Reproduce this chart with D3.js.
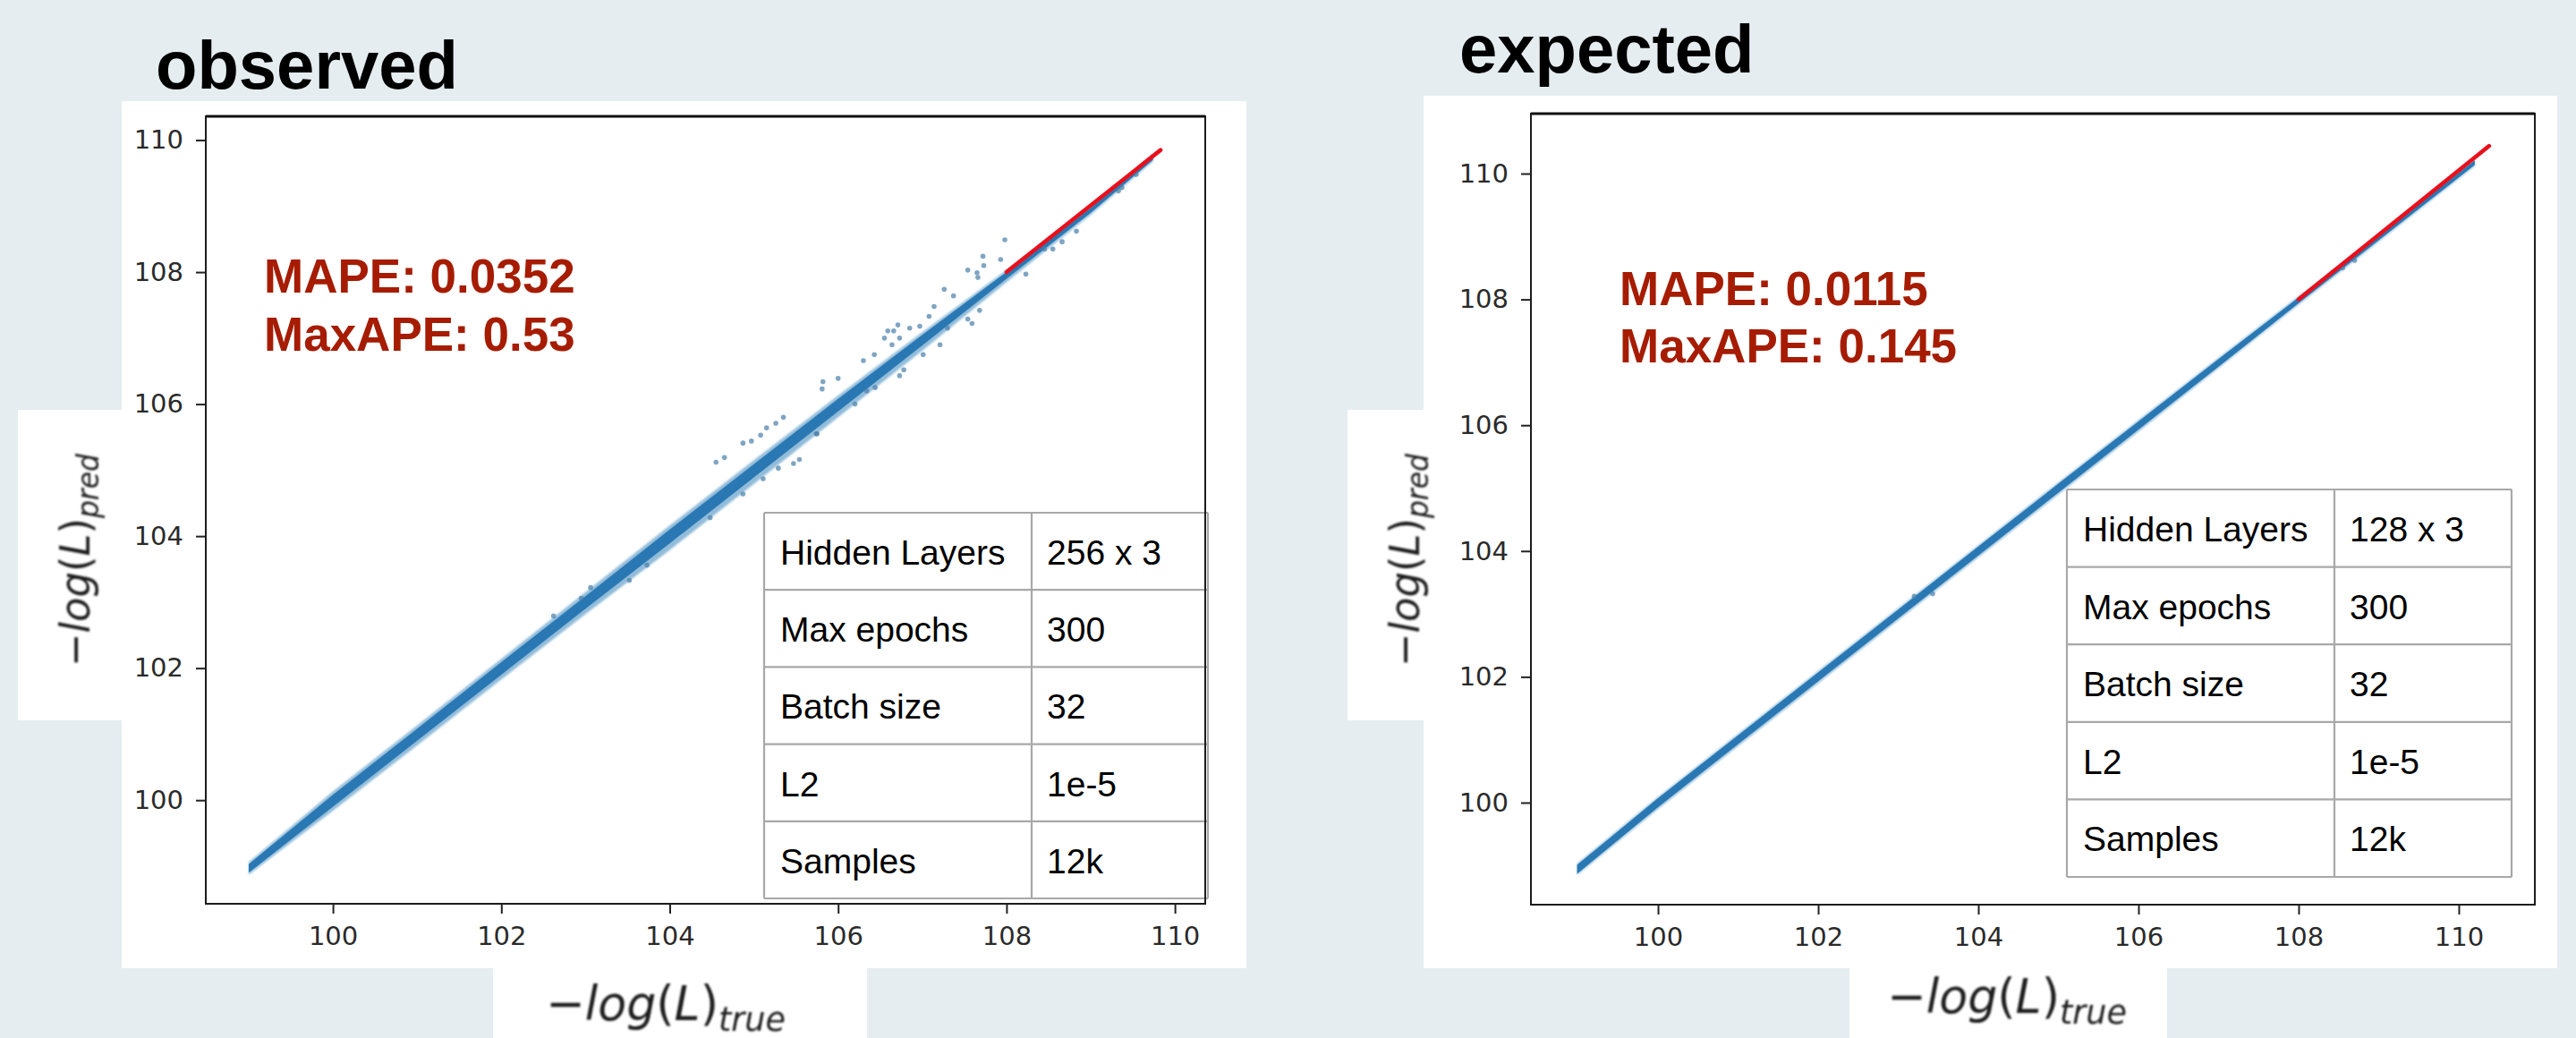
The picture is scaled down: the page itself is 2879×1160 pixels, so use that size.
<!DOCTYPE html>
<html>
<head>
<meta charset="utf-8">
<script src="https://cdn.jsdelivr.net/npm/d3@7"></script>
<style>
  body { margin: 0; background: #e5edf0; }
  svg { display: block; }
</style>
</head>
<body>
<svg id="chart" width="2879" height="1160"></svg>
<script>
// ---- data ----
var tickValues = [100, 102, 104, 106, 108, 110];

var paramNames = ["Hidden Layers", "Max epochs", "Batch size", "L2", "Samples"];
var paramsObserved = ["256 x 3", "300", "32", "1e-5", "12k"];
var paramsExpected = ["128 x 3", "300", "32", "1e-5", "12k"];

var metricsObserved = ["MAPE: 0.0352", "MaxAPE: 0.53"];
var metricsExpected = ["MAPE: 0.0115", "MaxAPE: 0.145"];

// dense band of the 12k samples: -log(L)true vs edges of -log(L)pred
var bandTrueObs   = [99.0, 100, 101, 102, 103, 104, 105, 106, 107, 108, 109, 109.74];
var coreLoObs     = [98.90, 99.90, 100.90, 101.90, 102.90, 103.89, 104.89, 105.89, 106.89, 107.90, 108.90, 109.70];
var coreHiObs     = [99.03, 100.08, 101.08, 102.09, 103.09, 104.10, 105.09, 106.08, 107.05, 108.00, 108.97, 109.77];
var fringeLoObs   = [98.87, 99.84, 100.83, 101.83, 102.82, 103.79, 104.79, 105.80, 106.81, 107.85, 108.87, 109.68];
var fringeHiObs   = [99.06, 100.13, 101.13, 102.14, 103.15, 104.16, 105.15, 106.13, 107.09, 108.03, 108.99, 109.79];

var bandTrueExp   = [98.99, 100, 101, 102, 103, 104, 105, 106, 107, 108, 109, 110.2];
var coreLoExp     = [98.87, 99.93, 100.93, 101.93, 102.93, 103.93, 104.93, 105.93, 106.93, 107.94, 108.94, 110.14];
var coreHiExp     = [99.01, 100.07, 101.07, 102.07, 103.07, 104.07, 105.07, 106.06, 107.05, 108.03, 109.02, 110.21];
var fringeLoExp   = [98.85, 99.90, 100.90, 101.90, 102.90, 103.90, 104.90, 105.90, 106.91, 107.92, 108.92, 110.12];
var fringeHiExp   = [99.03, 100.09, 101.09, 102.09, 103.09, 104.09, 105.09, 106.08, 107.07, 108.05, 109.03, 110.22];

// scattered single samples [true, pred]
var outliersObs = [
  [107.98,108.49],[107.72,108.24],[107.93,108.19],[107.54,108.03],[107.65,107.99],[107.66,107.92],
  [107.73,108.10],[107.26,107.74],[107.37,107.64],[107.14,107.48],[107.08,107.33],[106.85,107.15],
  [106.97,107.18],[106.71,107.20],[106.66,107.11],[106.59,107.11],[106.55,107.00],[106.73,107.00],
  [106.64,106.90],[106.43,106.75],[106.30,106.66],[106.00,106.39],[105.82,106.34],[105.81,106.23],
  [106.20,106.00],[106.34,106.20],[106.44,106.25],[105.74,105.55],[108.23,107.97],[108.83,108.62],
  [108.66,108.46],[108.45,108.35],[108.55,108.35],[107.68,107.42],[107.54,107.29],[107.59,107.22],
  [107.30,107.15],[107.21,106.90],[107.01,106.75],[106.78,106.52],[106.73,106.43],[109.33,109.23],
  [109.54,109.48],[109.37,109.28],[104.55,105.12],[104.65,105.19],[104.87,105.41],[104.97,105.44],
  [105.08,105.53],[105.15,105.64],[105.26,105.71],[105.35,105.80],[105.75,105.55],[105.54,105.16],
  [105.47,105.10],[105.29,105.03],[105.11,104.87],[104.87,104.64],[104.48,104.28],[103.73,103.56],
  [103.52,103.33],[103.06,103.22],[102.62,102.79],[102.95,103.06]
];
var outliersExp = [[103.43,103.32],[103.20,103.28],[108.55,108.50],[108.70,108.62]];

// red y = x reference, where it shows
var refObs = [[108.0, 108.0], [109.83, 109.85]];
var refExp = [[108.0, 108.0], [110.38, 110.44]];

// ---- layout ----
var svg = d3.select("#chart");

var panels = [
  {
    title: "observed", titleX: 174, titleY: 99,
    white: [[136, 113, 1393, 1082], [20, 458, 136, 805], [551, 1082, 969, 1160]],
    plot: {x0: 230, x1: 1347, y0: 130, y1: 1010},
    xDomain: [98.49, 110.36], yDomain: [98.43, 110.36],
    band: [bandTrueObs, coreLoObs, coreHiObs, fringeLoObs, fringeHiObs],
    outliers: outliersObs, ref: refObs,
    metrics: metricsObserved, metricX: 295, metricY: 327, metricDy: 65,
    values: paramsObserved, tableX: 854, tableY: 573, col1: 299, col2: 197, rowH: 86.2,
    ylabX: 100, ylabY: 626, xlabX: 744, xlabY: 1140
  },
  {
    title: "expected", titleX: 1631, titleY: 81,
    white: [[1591, 107, 2858, 1082], [1506, 458, 1591, 805], [2067, 1082, 2422, 1160]],
    plot: {x0: 1711, x1: 2833, y0: 127, y1: 1011},
    xDomain: [98.413, 110.95], yDomain: [98.378, 110.953],
    band: [bandTrueExp, coreLoExp, coreHiExp, fringeLoExp, fringeHiExp],
    outliers: outliersExp, ref: refExp,
    metrics: metricsExpected, metricX: 1810, metricY: 341, metricDy: 64,
    values: paramsExpected, tableX: 2310, tableY: 547, col1: 299, col2: 198, rowH: 86.6,
    ylabX: 1586, ylabY: 626, xlabX: 2243, xlabY: 1132
  }
];

var defs = svg.append("defs");
defs.append("filter").attr("id", "soft")
  .append("feGaussianBlur").attr("stdDeviation", 0.9);
defs.append("filter").attr("id", "fuzz")
  .append("feGaussianBlur").attr("stdDeviation", 1.2);

function drawPanel(p, k) {
  var g = svg.append("g");

  g.selectAll("rect.white").data(p.white).enter().append("rect")
    .attr("class", "white")
    .attr("x", d => d[0]).attr("y", d => d[1])
    .attr("width", d => d[2] - d[0]).attr("height", d => d[3] - d[1])
    .attr("fill", "#fff");

  var x = d3.scaleLinear().domain(p.xDomain).range([p.plot.x0, p.plot.x1]);
  var y = d3.scaleLinear().domain(p.yDomain).range([p.plot.y1, p.plot.y0]);

  defs.append("clipPath").attr("id", "clip" + k).append("rect")
    .attr("x", p.plot.x0).attr("y", p.plot.y0)
    .attr("width", p.plot.x1 - p.plot.x0).attr("height", p.plot.y1 - p.plot.y0);
  var plot = g.append("g").attr("clip-path", "url(#clip" + k + ")");

  var bx = p.band[0], idx = d3.range(bx.length);
  var fringe = d3.area().x(i => x(bx[i])).y0(i => y(p.band[3][i])).y1(i => y(p.band[4][i]));
  var core = d3.area().x(i => x(bx[i])).y0(i => y(p.band[1][i])).y1(i => y(p.band[2][i]));

  plot.append("path").datum(idx).attr("d", fringe)
    .attr("fill", "#1f77b4").attr("fill-opacity", 0.5).attr("filter", "url(#fuzz)");
  plot.append("path").datum(idx).attr("d", core)
    .attr("fill", "#2a78b3");

  plot.selectAll("circle").data(p.outliers).enter().append("circle")
    .attr("cx", d => x(d[0])).attr("cy", d => y(d[1]))
    .attr("r", 2.8)
    .attr("fill", "#4a7fa8").attr("fill-opacity", 0.7);

  plot.append("path").datum(p.ref)
    .attr("d", d3.line().x(d => x(d[0])).y(d => y(d[1])))
    .attr("stroke", "#e8101c").attr("stroke-width", 4.5)
    .attr("stroke-linecap", "round").attr("fill", "none");

  // parameter table
  var table = g.append("g").attr("font-family", "'Liberation Sans', Arial, sans-serif")
    .attr("font-size", 39).attr("fill", "#000");
  var tw = p.col1 + p.col2;
  table.append("rect")
    .attr("x", p.tableX).attr("y", p.tableY)
    .attr("width", tw).attr("height", p.rowH * paramNames.length)
    .attr("fill", "#fff");
  paramNames.forEach(function(name, i) {
    var ty = p.tableY + i * p.rowH;
    table.append("text").attr("x", p.tableX + 18).attr("y", ty + 58).text(name);
    table.append("text").attr("x", p.tableX + p.col1 + 17).attr("y", ty + 58).text(p.values[i]);
  });
  var lines = table.append("g").attr("stroke", "#a8a8a8").attr("stroke-width", 2.2);
  d3.range(paramNames.length + 1).forEach(function(i) {
    lines.append("line")
      .attr("x1", p.tableX).attr("x2", p.tableX + tw)
      .attr("y1", p.tableY + i * p.rowH).attr("y2", p.tableY + i * p.rowH);
  });
  [0, p.col1, tw].forEach(function(cx) {
    lines.append("line")
      .attr("x1", p.tableX + cx).attr("x2", p.tableX + cx)
      .attr("y1", p.tableY).attr("y2", p.tableY + p.rowH * paramNames.length);
  });

  // spines
  g.append("rect")
    .attr("x", p.plot.x0).attr("y", p.plot.y0)
    .attr("width", p.plot.x1 - p.plot.x0).attr("height", p.plot.y1 - p.plot.y0)
    .attr("fill", "none").attr("stroke", "#1c1c1c").attr("stroke-width", 2);
  g.append("line")
    .attr("x1", p.plot.x0).attr("x2", p.plot.x1)
    .attr("y1", p.plot.y0).attr("y2", p.plot.y0)
    .attr("stroke", "#111").attr("stroke-width", 3);

  var yAxis = g.append("g").attr("transform", "translate(" + p.plot.x0 + ",0)")
    .call(d3.axisLeft(y).tickValues(tickValues).tickSize(11).tickPadding(14));
  var xAxis = g.append("g").attr("transform", "translate(0," + p.plot.y1 + ")")
    .call(d3.axisBottom(x).tickValues(tickValues).tickSize(11).tickPadding(14));
  [yAxis, xAxis].forEach(function(a) {
    a.select(".domain").remove();
    a.selectAll(".tick line").attr("stroke", "#222").attr("stroke-width", 2);
    a.selectAll(".tick text")
      .attr("font-family", "'DejaVu Sans', sans-serif")
      .attr("font-size", 29).attr("fill", "#2a2a2a");
  });

  // title and metrics
  g.append("text").attr("x", p.titleX).attr("y", p.titleY)
    .attr("font-family", "'Liberation Sans', Arial, sans-serif")
    .attr("font-weight", "bold").attr("font-size", 76).attr("fill", "#000")
    .text(p.title);
  p.metrics.forEach(function(m, i) {
    g.append("text").attr("x", p.metricX).attr("y", p.metricY + i * p.metricDy)
      .attr("font-family", "'Liberation Sans', Arial, sans-serif")
      .attr("font-weight", "bold").attr("font-size", 53).attr("fill", "#a61c00")
      .text(m);
  });

  // axis labels
  function mathLabel(cx, cy, sub, rot, len, size) {
    var t = g.append("text")
      .attr("font-family", "'DejaVu Sans', sans-serif")
      .attr("font-size", size).attr("fill", "#1e1e1e")
      .attr("text-anchor", "middle").attr("filter", "url(#soft)");
    t.append("tspan").text("\u2212");
    t.append("tspan").attr("font-style", "italic").text("log");
    t.append("tspan").text("(");
    t.append("tspan").attr("font-style", "italic").text("L");
    t.append("tspan").text(")");
    t.append("tspan").attr("font-style", "italic").attr("font-size", size * 0.7)
      .attr("dy", size * 0.22).text(sub);
    var w = t.node().getComputedTextLength();
    t.attr("transform", "translate(" + cx + "," + cy + ") rotate(" + rot + ") scale(" + (len / w) + ",1)");
  }
  mathLabel(p.ylabX, p.ylabY, "pred", -90, 238, 47);
  mathLabel(p.xlabX, p.xlabY, "true", 0, 268, 54);
}

panels.forEach(drawPanel);
</script>
</body>
</html>
